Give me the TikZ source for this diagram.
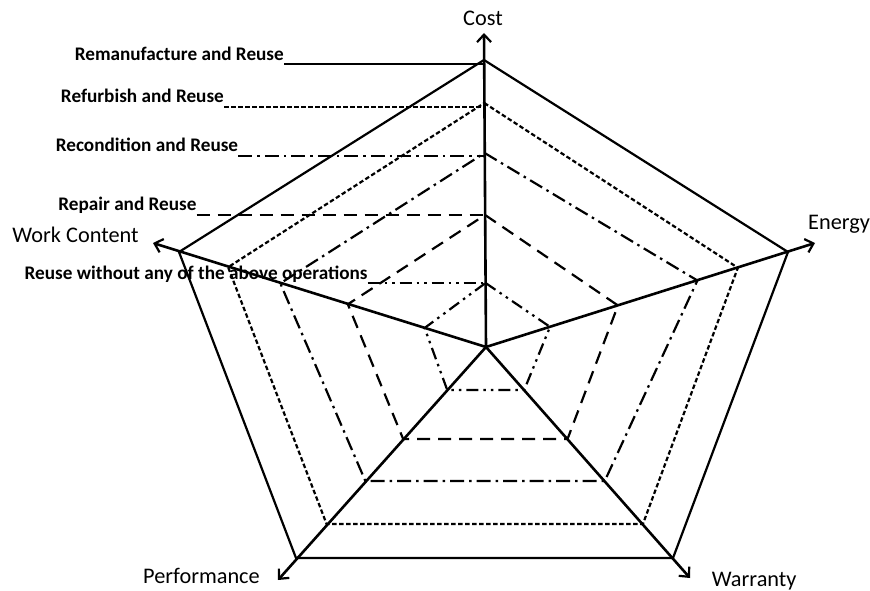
\documentclass[tikz,border=0pt]{standalone}
\usepackage{fontspec}
\setmainfont{Carlito}
\usetikzlibrary{arrows.meta,calc}
\begin{document}
\begin{tikzpicture}[x=1pt,y=-1pt,
 axisline/.style={line width=2.6pt,-{Straight Barb[length=7.5pt,width=14pt,line width=2.2pt]}},
 ring/.style={line width=2.2pt,line join=miter},
 solidring/.style={ring},
 dotring/.style={ring,dash pattern=on 4.5pt off 2.5pt},
 dashdotring/.style={ring,dash pattern=on 14pt off 5pt on 2.5pt off 5pt},
 dashring/.style={ring,dash pattern=on 13pt off 8pt},
 dashdotdotring/.style={ring,dash pattern=on 12pt off 5pt on 2.5pt off 5pt on 2.5pt off 5pt},
 lbl/.style={font=\bfseries\fontsize{19.2}{22}\selectfont,inner sep=0pt,anchor=base east},
 axlbl/.style={font=\fontsize{22.3}{26}\selectfont,inner sep=0pt}
]
\useasboundingbox (0,0) rectangle (870,591);
% centre and outer vertices
\coordinate (O) at (486,347);
\coordinate (A) at (484,60);
\coordinate (B) at (788,252);
\coordinate (C) at (673,558);
\coordinate (D) at (296,558);
\coordinate (E) at (179,252);
% arrow tips
\coordinate (Ta) at (484,33);
\coordinate (Tb) at (815,243);
\coordinate (Tc) at (690,578);
\coordinate (Td) at (278,580);
\coordinate (Te) at (153,243);
% inner rings
\coordinate (A2) at ($(O)!0.85!(A)$);
\coordinate (B2) at ($(O)!0.834!(B)$);
\coordinate (C2) at ($(O)!0.839!(C)$);
\coordinate (D2) at ($(O)!0.839!(D)$);
\coordinate (E2) at ($(O)!0.84!(E)$);
\coordinate (A3) at ($(O)!0.676!(A)$);
\coordinate (B3) at ($(O)!0.70!(B)$);
\coordinate (C3) at ($(O)!0.635!(C)$);
\coordinate (D3) at ($(O)!0.635!(D)$);
\coordinate (E3) at ($(O)!0.67!(E)$);
\coordinate (A4) at ($(O)!0.46!(A)$);
\coordinate (B4) at ($(O)!0.437!(B)$);
\coordinate (C4) at ($(O)!0.436!(C)$);
\coordinate (D4) at ($(O)!0.436!(D)$);
\coordinate (E4) at ($(O)!0.45!(E)$);
\coordinate (A5) at ($(O)!0.223!(A)$);
\coordinate (B5) at ($(O)!0.212!(B)$);
\coordinate (C5) at ($(O)!0.204!(C)$);
\coordinate (D5) at ($(O)!0.204!(D)$);
\coordinate (E5) at ($(O)!0.20!(E)$);
% rings
\draw[solidring] (A) -- (B) -- (C) -- (D) -- (E) -- cycle;
\draw[dotring] (A2) -- (B2) -- (C2) -- (D2) -- (E2) -- cycle;
\draw[dashdotring] (A3) -- (B3) -- (C3) -- (D3) -- (E3) -- cycle;
\draw[dashring] (A4) -- (B4) -- (C4) -- (D4) -- (E4) -- cycle;
\draw[dashdotdotring] (A5) -- (B5) -- (C5) -- (D5) -- (E5) -- cycle;
% axes
\draw[axisline] (O) -- (Ta);
\draw[axisline] (O) -- (Tb);
\draw[axisline] (O) -- (Tc);
\draw[axisline] (O) -- (Td);
\draw[axisline] (O) -- (Te);
% axis labels
\node[axlbl,anchor=base] (cost) at (483,25.7) {Cost};
\node[axlbl,anchor=base west] (energy) at (808,229.3) {Energy};
\node[axlbl,anchor=base west] (work) at (12.3,242.7) {Work Content};
\node[axlbl,anchor=base west] (perf) at (143,583.3) {Performance};
\node[axlbl,anchor=base west] (warr) at (711.7,586) {Warranty};
% legend labels
\node[lbl] (rem) at (284,60.7) {Remanufacture and Reuse};
\node[lbl] (ref) at (224,102.7) {Refurbish and Reuse};
\node[lbl] (rec) at (238.3,151.7) {Recondition and Reuse};
\node[lbl] (rep) at (196.7,210.7) {Repair and Reuse};
\node[lbl] (reu) at (367.7,279) {Reuse without any of the above operations};
\coordinate (t1) at (484,64);
\coordinate (t2) at (484,107);
\coordinate (t3) at (484,156);
\coordinate (t4) at (484,215);
\coordinate (t5) at (484,283);
\draw[solidring] (rem.east |- t1) -- (t1);
\draw[dotring] (ref.east |- t2) -- (t2);
\draw[dashdotring] (rec.east |- t3) -- (t3);
\draw[dashring] (rep.east |- t4) -- (t4);
\draw[dashdotdotring] (reu.east |- t5) -- (t5);
\end{tikzpicture}
\end{document}
